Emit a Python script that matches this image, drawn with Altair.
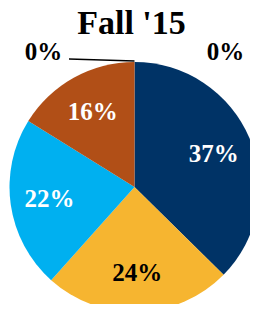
import altair as alt
import pandas as pd

title_text = "Fall '15"
categories = ["Seg A", "Seg B", "Seg C", "Seg D", "Seg E", "Seg F"]
values = [0, 37, 24, 22, 16, 0]
labels = ["0%", "37%", "24%", "22%", "16%", "0%"]
colors = ["#7F7F7F", "#003366", "#F6B530", "#00B0F0", "#B14F17", "#5B9BD5"]

df = pd.DataFrame({
    "category": categories,
    "value": values,
    "label": labels,
    "idx": list(range(len(categories))),
})

CX, CY, R = 126.5, 179, 125
FONT = "Liberation Serif, Times New Roman, DejaVu Serif, serif"

base = alt.Chart(df).encode(
    theta=alt.Theta("value:Q", stack=True),
    order=alt.Order("idx:Q"),
    x=alt.value(CX),
    y=alt.value(CY),
)

pie = base.mark_arc(radius=R).encode(
    color=alt.Color("category:N", scale=alt.Scale(domain=categories, range=colors), legend=None)
)

inner = base.transform_filter(alt.datum.value > 0).mark_text(
    radius=86, font=FONT, fontSize=25, fontWeight="bold", baseline="middle"
).encode(
    text="label:N",
    color=alt.condition(alt.datum.category == "Seg C", alt.value("#000000"), alt.value("#ffffff")),
)

zero_right = base.transform_filter(alt.datum.category == "Seg A").mark_text(
    radius=135, dx=91, font=FONT, fontSize=25, fontWeight="bold", baseline="middle", color="black"
).encode(text="label:N")

zero_left = base.transform_filter(alt.datum.category == "Seg F").mark_text(
    radius=135, dx=-91, font=FONT, fontSize=25, fontWeight="bold", baseline="middle", color="black"
).encode(text="label:N")

leader = alt.Chart(df).transform_filter(alt.datum.category == "Seg F").mark_rule(
    color="black", strokeWidth=1.3
).encode(x=alt.value(61), x2=alt.value(CX), y=alt.value(51), y2=alt.value(53))

title = alt.Chart(pd.DataFrame({"t": [title_text]})).mark_text(
    font=FONT, fontSize=34, fontWeight="bold", baseline="alphabetic", align="center", color="black"
).encode(text="t:N", x=alt.value(123.5), y=alt.value(26))

chart = alt.layer(pie, inner, zero_right, zero_left, leader, title).properties(
    width=242,
    height=296,
    autosize=alt.AutoSizeParams(type="none"),
    padding=0,
    background="white",
).configure_view(stroke=None)

chart.save("out.html", embed_options={"renderer": "svg", "actions": False})
